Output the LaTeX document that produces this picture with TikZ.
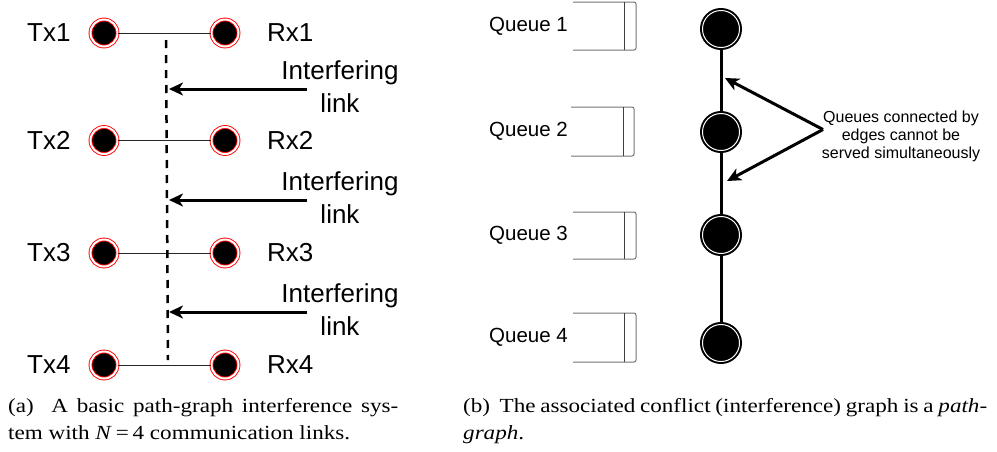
\documentclass[tikz,border=0pt]{standalone}
\usepackage{graphicx}
\usepackage{fontspec}
\setmainfont{Liberation Serif}
\newfontfamily\sansf{Liberation Sans}
\usetikzlibrary{arrows.meta}
\begin{document}
\begin{tikzpicture}[x=1pt,y=-1pt,
  txnode/.style={circle, minimum size=27pt, inner sep=0pt, fill=black, draw=red, line width=0.9pt, double=white, double distance=2pt},
  gnode/.style={circle, minimum size=37pt, inner sep=0pt, fill=black, draw=black, line width=2pt, double=white, double distance=1pt},
  biglbl/.style={font=\sansf\fontsize{26}{31}\selectfont, inner sep=0pt},
  qlbl/.style={font=\sansf\fontsize{20.5}{24}\selectfont, inner sep=0pt, anchor=east},
  annlbl/.style={font=\sansf\fontsize{16}{19}\selectfont, inner sep=0pt, anchor=base},
  caplbl/.style={font=\fontsize{20}{24}\selectfont, inner sep=0pt, anchor=base west},
  link/.style={line width=1pt, black!85},
  iarrow/.style={line width=3pt, -{Stealth[length=14pt,width=13pt,inset=4pt]}},
  gedge/.style={line width=3pt},
  qbox/.style={draw=black!55, line width=1pt, rounded corners=2pt},
  qinner/.style={draw=black!75, line width=1pt},
]
\useasboundingbox (0,0) rectangle (997,451);

% ---------- left diagram ----------
\foreach \i/\y in {1/33,2/140.5,3/253,4/365}{
  \node[txnode] (tx\i) at (104,\y) {};
  \node[txnode] (rx\i) at (225,\y) {};
  \node[biglbl, anchor=west] (txl\i) at (27,\y) {Tx\i};
  \node[biglbl, anchor=west] (rxl\i) at (267,\y) {Rx\i};
  \draw[link] (tx\i) -- (rx\i);
}
\coordinate (dtop) at (166,40);
\coordinate (dbot) at (168,360);
\draw[line width=2.5pt, dash pattern=on 8pt off 7pt] (dtop) -- (dbot);

\foreach \j/\y in {1/89,2/200,3/312}{
  \coordinate (as\j) at (307,\y);
  \coordinate (ae\j) at (169,\y);
  \draw[iarrow] (as\j) -- (ae\j);
  \node[biglbl, anchor=base] (ia\j) at (340,\y-10) {Interfering};
  \node[biglbl, anchor=base] (ib\j) at (340,\y+23) {link};
}

% ---------- right diagram ----------
\foreach \k/\t/\b/\l/\r/\m in {1/2/50/573/636/624, 2/107/156/571/634/623, 3/212/259/573/636/624, 4/313/362/573/636/624}{
  \draw[qbox] (\l,\t) -- (\r,\t) -- (\r,\b) -- (\l,\b);
  \draw[qinner] (\m,\t) -- (\m,\b);
  \node[qlbl] (ql\k) at (568,{(\t+\b)/2}) {Queue \k};
}

\node[gnode] (g1) at (721,29) {};
\node[gnode] (g2) at (721,132) {};
\node[gnode] (g3) at (721,235) {};
\node[gnode] (g4) at (721,343) {};
\draw[gedge] (g1) -- (g2);
\draw[gedge] (g2) -- (g3);
\draw[gedge] (g3) -- (g4);

\coordinate (ann) at (823,129.5);
\coordinate (tipa) at (725,78);
\coordinate (tipb) at (727,181);
\draw[iarrow] (ann) -- (tipa);
\draw[iarrow] (ann) -- (tipb);
\node[annlbl] (an1) at (901,122) {Queues connected by};
\node[annlbl] (an2) at (901,140) {edges cannot be};
\node[annlbl] (an3) at (901,158) {served simultaneously};

% ---------- captions ----------
\node[caplbl] (capa1) at (8,412) {\scalebox{1.155}[1]{\makebox[337.7pt][s]{(a)\ \ A basic path-graph interference sys-}}};
\node[caplbl] (capa2) at (8,439) {\scalebox{1.155}[1]{tem with \textit{N}\,=\,4 communication links.}};
\node[caplbl] (capb1) at (463,412) {\scalebox{1.155}[1]{\makebox[453.7pt][s]{(b)\ \ The associated conflict (interference) graph is a \textit{path-}}}};
\node[caplbl] (capb2) at (463,439) {\scalebox{1.155}[1]{\textit{graph}.}};
\end{tikzpicture}
\end{document}
